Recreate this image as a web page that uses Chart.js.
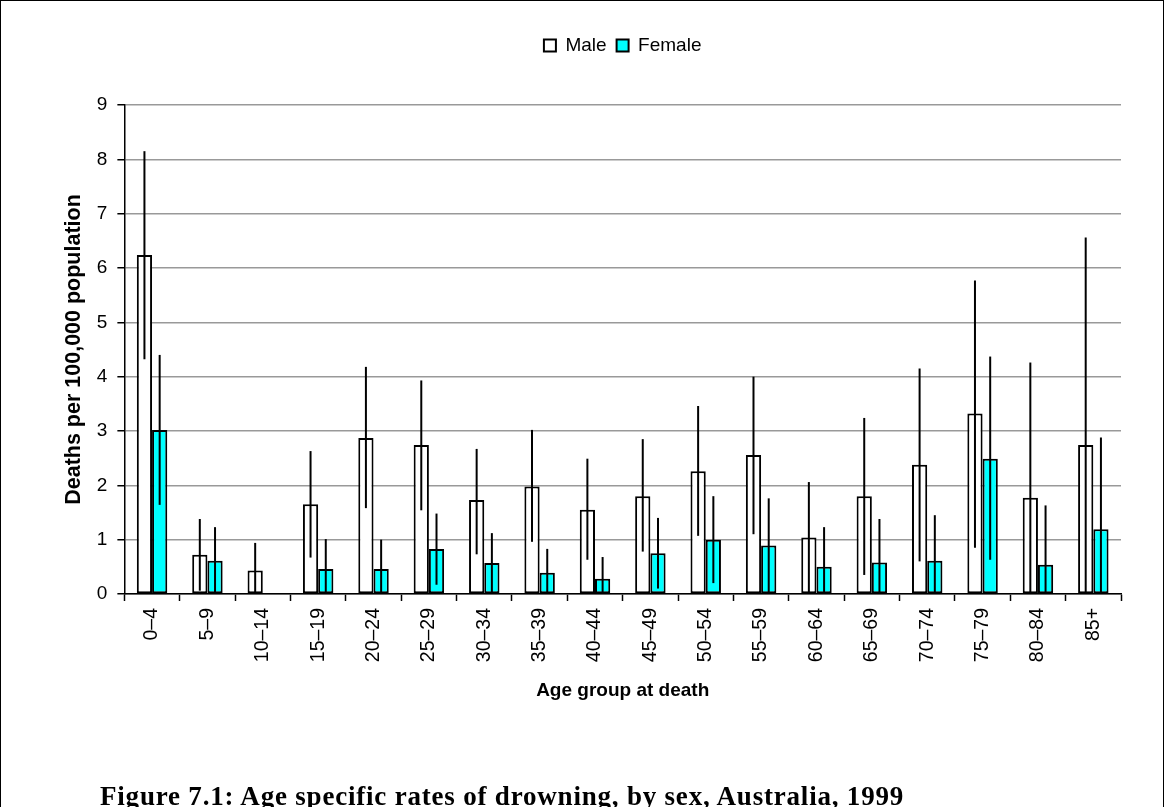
<!DOCTYPE html>
<html>
<head>
<meta charset="utf-8">
<script src="https://cdn.jsdelivr.net/npm/chart.js@4/dist/chart.umd.min.js"></script>
<style>
  html, body { margin: 0; padding: 0; background: #fff; overflow: hidden; }
  .frame {
    position: absolute; left: 0; top: 0; width: 1162px; height: 820px;
    border: 1.5px solid #000; border-bottom: none; pointer-events: none;
  }
  .chartBox { position: absolute; left: 0; top: 0; width: 1165px; height: 720px; }
  .caption {
    position: absolute; left: 100px; top: 783px; white-space: nowrap; letter-spacing: 0.8px;
    font: bold 27px "Liberation Serif", "DejaVu Serif", serif; line-height: 27px; color: #000;
  }
</style>
</head>
<body>
<div class="chartBox"><canvas id="chart"></canvas></div>
<div class="frame"></div>
<div class="caption">Figure 7.1: Age specific rates of drowning, by sex, Australia, 1999</div>
<script>
const ageGroups = ['0–4', '5–9', '10–14', '15–19', '20–24', '25–29', '30–34', '35–39', '40–44',
  '45–49', '50–54', '55–59', '60–64', '65–69', '70–74', '75–79', '80–84', '85+'];

const maleRates = [6.24, 0.72, 0.43, 1.65, 2.87, 2.74, 1.73, 1.98, 1.55, 1.80, 2.26, 2.56, 1.04, 1.80, 2.38, 3.32, 1.77, 2.74];
const maleUpper = [8.15, 1.38, 0.94, 2.63, 4.18, 3.93, 2.67, 3.02, 2.49, 2.85, 3.46, 4.00, 2.06, 3.24, 4.15, 5.77, 4.26, 6.56];
const maleLower = [4.32, 0.06, 0, 0.67, 1.58, 1.54, 0.73, 0.96, 0.63, 0.78, 1.07, 1.10, 0, 0.35, 0.60, 0.85, 0, 0];

const femaleRates = [3.02, 0.61, null, 0.46, 0.46, 0.83, 0.57, 0.39, 0.28, 0.75, 1.00, 0.89, 0.50, 0.58, 0.61, 2.49, 0.54, 1.19];
const femaleUpper = [4.40, 1.23, null, 1.01, 1.00, 1.48, 1.12, 0.83, 0.68, 1.40, 1.80, 1.76, 1.23, 1.38, 1.45, 4.37, 1.63, 2.88];
const femaleLower = [1.64, 0, null, 0, 0, 0.17, 0, 0, 0, 0.10, 0.20, 0, 0, 0, 0, 0.63, 0, 0];

const yTicks = [0, 1, 2, 3, 4, 5, 6, 7, 8, 9];

const FONT = '"Liberation Sans", Arial, sans-serif';

// confidence interval lines, no caps, drawn through the centre of each bar
const errorBars = {
  id: 'errorBars',
  afterDatasetsDraw(chart) {
    const {ctx, scales: {y}} = chart;
    ctx.save();
    ctx.strokeStyle = '#000';
    ctx.lineWidth = 2;
    chart.data.datasets.forEach((dataset, i) => {
      chart.getDatasetMeta(i).data.forEach((bar, j) => {
        if (dataset.upper[j] == null) return;
        ctx.beginPath();
        ctx.moveTo(bar.x, y.getPixelForValue(dataset.lower[j]));
        ctx.lineTo(bar.x, y.getPixelForValue(dataset.upper[j]));
        ctx.stroke();
      });
    });
    ctx.restore();
  }
};

// leave a gap between the legend and the plot
const legendGap = {
  id: 'legendGap',
  beforeInit(chart) {
    const fit = chart.legend.fit;
    chart.legend.fit = function () {
      fit.call(this);
      this.height += 40;
    };
  }
};

Chart.defaults.font.family = FONT;
Chart.defaults.color = '#000';

new Chart(document.getElementById('chart'), {
  type: 'bar',
  data: {
    labels: ageGroups,
    datasets: [
      {
        label: 'Male', data: maleRates, upper: maleUpper, lower: maleLower,
        backgroundColor: '#ffffff', borderColor: '#000', borderWidth: 2, borderSkipped: false,
      },
      {
        label: 'Female', data: femaleRates, upper: femaleUpper, lower: femaleLower,
        backgroundColor: '#00ffff', borderColor: '#000', borderWidth: 2, borderSkipped: false,
      },
    ],
  },
  options: {
    responsive: true,
    maintainAspectRatio: false,
    animation: false,
    layout: {padding: {left: 57, right: 44, top: 26, bottom: 14}},
    datasets: {bar: {categoryPercentage: 0.55, barPercentage: 1}},
    plugins: {
      legend: {
        position: 'top',
        fullSize: false,
        labels: {boxWidth: 12, boxHeight: 12, padding: 10, font: {size: 19}, color: '#000'},
      },
      tooltip: {enabled: false},
    },
    scales: {
      x: {
        grid: {offset: true, drawOnChartArea: false, tickLength: 7, tickColor: '#000', tickWidth: 1.5},
        border: {color: '#000', width: 1.5},
        ticks: {minRotation: 90, maxRotation: 90, padding: 7, font: {size: 19.5}, autoSkip: false},
        title: {display: true, text: 'Age group at death', font: {size: 19, weight: 'bold'}, padding: {top: 10, bottom: 4}},
      },
      y: {
        min: 0,
        max: 9,
        afterBuildTicks(scale) {
          scale.ticks = yTicks.map(value => ({value}));
        },
        grid: {color: '#999', lineWidth: 1.5, tickLength: 7, tickColor: '#000', tickWidth: 1.5},
        border: {color: '#000', width: 1.5},
        ticks: {padding: 10, font: {size: 19}},
        title: {display: true, text: 'Deaths per 100,000 population', font: {size: 21.5, weight: 'bold'}, padding: {top: 4, bottom: 0}},
      },
    },
  },
  plugins: [errorBars, legendGap],
});
</script>
</body>
</html>
